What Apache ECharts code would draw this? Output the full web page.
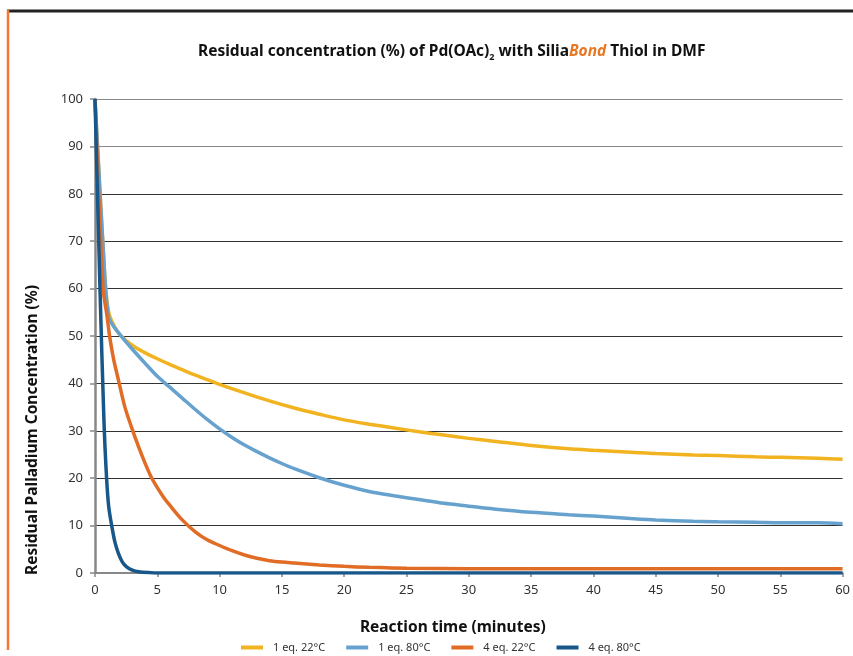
<!DOCTYPE html>
<html>
<head>
<meta charset="utf-8">
<script src="https://cdn.jsdelivr.net/npm/echarts@6/dist/echarts.min.js"></script>
<style>html,body{margin:0;padding:0;background:#fff;}#c{width:853px;height:656px;}</style>
</head>
<body>
<div id="c"></div>
<script>
var seriesNames = ['1 eq. 22°C', '1 eq. 80°C', '4 eq. 22°C', '4 eq. 80°C'];
var xTicks = [0, 5, 10, 15, 20, 25, 30, 35, 40, 45, 50, 55, 60];
var yTicks = [0, 10, 20, 30, 40, 50, 60, 70, 80, 90, 100];

var t1eq22 = [0, 0.8, 1.1, 1.5, 2, 3, 4, 5, 6, 7, 8, 9, 10, 12, 14, 16, 18, 20, 22, 24, 26, 28, 30, 32, 35, 38, 40, 43, 45, 48, 50, 53, 55, 58, 60];
var v1eq22 = [100, 62, 55, 52.3, 50.3, 48, 46.5, 45.2, 44, 42.9, 41.8, 40.8, 39.8, 38, 36.3, 34.8, 33.5, 32.3, 31.4, 30.6, 29.8, 29.1, 28.4, 27.8, 26.9, 26.2, 25.9, 25.5, 25.2, 24.9, 24.8, 24.5, 24.4, 24.2, 24.0];

var t1eq80 = [0, 0.8, 1.1, 1.5, 2, 3, 4, 5, 6, 7, 8, 9, 10, 11, 12, 13, 14, 15, 16, 18, 20, 22, 24, 26, 28, 30, 32, 35, 38, 40, 43, 45, 48, 50, 53, 55, 58, 60];
var v1eq80 = [100, 62, 54, 52, 50.3, 47.2, 44.3, 41.5, 39.2, 36.9, 34.6, 32.4, 30.4, 28.6, 27.0, 25.6, 24.3, 23.1, 22.0, 20.1, 18.5, 17.2, 16.3, 15.5, 14.7, 14.1, 13.5, 12.8, 12.3, 12, 11.5, 11.2, 10.9, 10.8, 10.7, 10.6, 10.6, 10.4];

var t4eq22 = [0, 0.65, 0.95, 1.2, 1.5, 1.9, 2.4, 2.9, 3.5, 4, 4.5, 5, 5.5, 6, 7, 8, 9, 10, 11, 12, 13, 14, 15, 16, 18, 20, 22, 25, 30, 40, 50, 60];
var v4eq22 = [100, 60, 54.5, 49.5, 45, 40.5, 35, 31, 26.6, 23.3, 20.3, 18, 16, 14.3, 11.2, 8.8, 7.0, 5.8, 4.7, 3.8, 3.1, 2.6, 2.3, 2.1, 1.7, 1.4, 1.2, 1.0, 0.9, 0.9, 0.9, 0.9];

var t4eq80 = [0, 0.4, 0.72, 0.93, 1.1, 1.34, 1.6, 1.87, 2.2, 2.54, 3, 3.5, 4.5, 5, 10, 20, 30, 40, 50, 60];
var v4eq80 = [100, 60, 32, 20, 14, 10, 6.5, 4.2, 2.3, 1.3, 0.6, 0.25, 0.05, 0, 0, 0, 0, 0, 0, 0];

function pairs(ts, vs) { return ts.map(function (t, i) { return [t, vs[i]]; }); }

var colors = ['#F2B320', '#67A2CF', '#E06C25', '#17578A'];
var datasets = [pairs(t1eq22, v1eq22), pairs(t1eq80, v1eq80), pairs(t4eq22, v4eq22), pairs(t4eq80, v4eq80)];

var chart = echarts.init(document.getElementById('c'), null, {renderer: 'canvas'});
var font = 'Noto Sans';
var gridColors = ['#888', '#333', '#333', '#333', '#333', '#333', '#333', '#333', '#333', '#888', '#888'];

chart.setOption({
  animation: false,
  backgroundColor: '#fff',
  color: colors,
  title: {
    left: 193,
    top: 36,
    text: '{a|Residual concentration (%) of Pd(OAc)}{s|2}{a| with Silia}{b|Bond}{a| Thiol in DMF}',
    textStyle: {
      rich: {
        a: {fontFamily: font, fontWeight: 'bold', fontSize: 15.5, color: '#111', lineHeight: 22},
        s: {fontFamily: font, fontWeight: 'bold', fontSize: 9, color: '#111', lineHeight: 22, padding: [11, 0, 0, 0]},
        b: {fontFamily: font, fontWeight: 'bold', fontStyle: 'italic', fontSize: 15.5, color: '#E87722', lineHeight: 22}
      }
    }
  },
  legend: {
    left: 241,
    top: 642,
    padding: 0,
    itemWidth: 22,
    itemHeight: 4,
    itemGap: 21,
    icon: 'rect',
    data: seriesNames,
    textStyle: {fontFamily: font, fontSize: 11, color: '#333', padding: [0, 0, 0, 5]}
  },
  grid: {left: 95, right: 10, top: 99, bottom: 83},
  xAxis: {
    type: 'value',
    min: 0, max: 60, interval: 5,
    name: 'Reaction time (minutes)',
    nameLocation: 'middle',
    nameGap: 47,
    nameTextStyle: {fontFamily: font, fontWeight: 'bold', fontSize: 15.5, color: '#111', padding: [0, 32, 0, 0]},
    axisLine: {lineStyle: {color: '#888', width: 2}},
    axisTick: {show: true, length: 4, lineStyle: {color: '#888', width: 1.5}},
    axisLabel: {fontFamily: font, fontSize: 13, color: '#333', margin: 11,
      formatter: function (v) { return xTicks.indexOf(v) >= 0 ? String(v) : ''; }},
    splitLine: {show: false}
  },
  yAxis: {
    type: 'value',
    min: 0, max: 100, interval: 10,
    axisLine: {show: true, lineStyle: {color: '#888', width: 2.5}},
    axisTick: {show: true, length: 5, lineStyle: {color: '#888', width: 1.5}},
    axisLabel: {fontFamily: font, fontSize: 13, color: '#333', margin: 12,
      formatter: function (v) { return yTicks.indexOf(v) >= 0 ? String(v) : ''; }},
    splitLine: {show: true, lineStyle: {color: gridColors, width: 1.2}}
  },
  graphic: [
    {type: 'line', shape: {x1: 7, y1: 11, x2: 853, y2: 11}, style: {stroke: '#222', lineWidth: 3}, z: 10},
    {type: 'line', shape: {x1: 8, y1: 10, x2: 8, y2: 650}, style: {stroke: '#F47A32', lineWidth: 2.5}, z: 10},
    {type: 'text', x: 33, y: 430, rotation: Math.PI / 2,
      style: {text: 'Residual Palladium Concentration (%)', fontFamily: font, fontWeight: 'bold', fontSize: 15.5, fill: '#111', textAlign: 'center', textVerticalAlign: 'middle'}}
  ],
  series: seriesNames.map(function (n, i) {
    return {
      name: n,
      type: 'line',
      data: datasets[i],
      showSymbol: false,
      smooth: 0.3,
      lineStyle: {width: 3.5, color: colors[i]},
      itemStyle: {color: colors[i]},
      z: 2 + i
    };
  })
});
</script>
</body>
</html>
